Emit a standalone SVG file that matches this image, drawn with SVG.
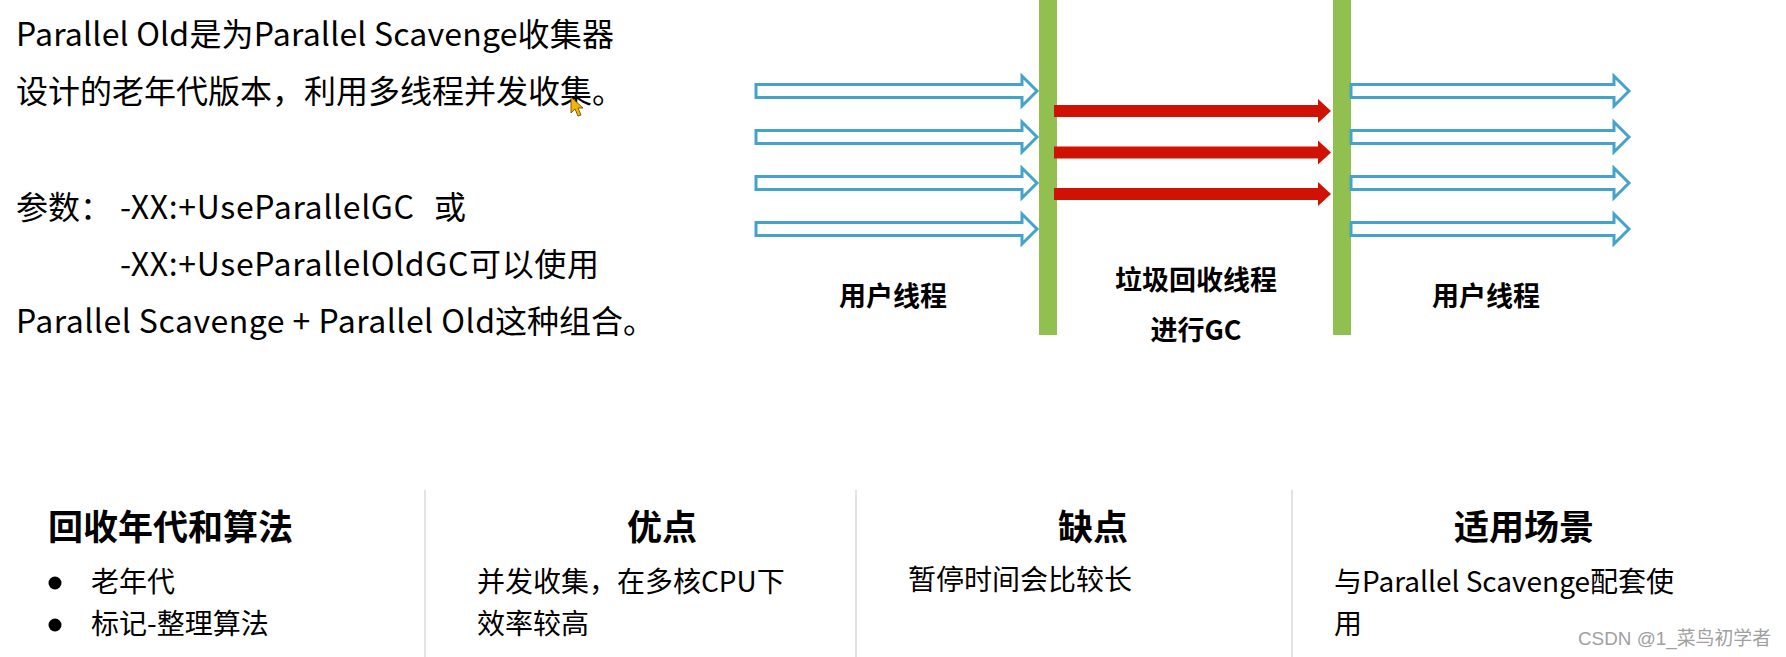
<svg xmlns="http://www.w3.org/2000/svg" width="1786" height="657" viewBox="0 0 1786 657">
<style>
text{font-family:"Noto Sans CJK SC","Liberation Sans",sans-serif;fill:#000}
.t{font-size:32px}
.lbl{font-size:27px;font-weight:700;text-anchor:middle}
.h{font-size:35px;font-weight:700}
.b{font-size:28px}
.blue{fill:#fff;stroke:#45A3CB;stroke-width:3}
.red{fill:#D01204}
.bar{fill:#92C050}
.div{stroke:#DADADA;stroke-width:1.5}
.wm{font-size:19px;fill:#A0A0A0;font-family:"Liberation Sans","Noto Sans CJK SC",sans-serif}
</style>
<rect width="1786" height="657" fill="#fff"/>
<g id="intro">
<text class="t" x="16" y="46" textLength="598" lengthAdjust="spacing">Parallel Old是为Parallel Scavenge收集器</text>
<text class="t" x="16" y="103">设计的老年代版本，利用多线程并发收集。</text>
<text class="t" x="16" y="219">参数：</text>
<text class="t" x="120" y="219" textLength="294" lengthAdjust="spacing">-XX:+UseParallelGC</text>
<text class="t" x="434" y="219">或</text>
<text class="t" x="120" y="276" textLength="479" lengthAdjust="spacing">-XX:+UseParallelOldGC可以使用</text>
<text class="t" x="16" y="333" textLength="479" lengthAdjust="spacing">Parallel Scavenge + Parallel Old</text>
<text class="t" x="495" y="333">这种组合。</text>
<path d="M571,97 L571,113 L575,109 L578,116 L581,115 L578,108 L583,108 Z" fill="#F5B400" stroke="#5a4000" stroke-width="0.8"/>
</g>
<g id="bars">
<rect id="bar1" class="bar" x="1039" y="0" width="18" height="335"/>
<rect id="bar2" class="bar" x="1333" y="0" width="18" height="335"/>
</g>
<g id="connectors">
<path class="blue" d="M756,84.5 H1022 V76 L1037,91 L1022,106 V97.5 H756 Z"/>
<path class="blue" d="M756,130.5 H1022 V122 L1037,137 L1022,152 V143.5 H756 Z"/>
<path class="blue" d="M756,176.5 H1022 V168 L1037,183 L1022,198 V189.5 H756 Z"/>
<path class="blue" d="M756,222.5 H1022 V214 L1037,229 L1022,244 V235.5 H756 Z"/>
<path class="red" d="M1054,105 H1318 V99 L1331,111 L1318,123 V117 H1054 Z"/>
<path class="red" d="M1054,146.5 H1318 V140.5 L1331,152.5 L1318,164.5 V158.5 H1054 Z"/>
<path class="red" d="M1054,188 H1318 V182 L1331,194 L1318,206 V200 H1054 Z"/>
<path class="blue" d="M1351,84.5 H1614 V76 L1629,91 L1614,106 V97.5 H1351 Z"/>
<path class="blue" d="M1351,130.5 H1614 V122 L1629,137 L1614,152 V143.5 H1351 Z"/>
<path class="blue" d="M1351,176.5 H1614 V168 L1629,183 L1614,198 V189.5 H1351 Z"/>
<path class="blue" d="M1351,222.5 H1614 V214 L1629,229 L1614,244 V235.5 H1351 Z"/>
</g>
<g id="labels">
<text class="lbl" x="893" y="306">用户线程</text>
<text class="lbl" x="1196" y="290">垃圾回收线程</text>
<text class="lbl" x="1196" y="340">进行GC</text>
<text class="lbl" x="1486" y="306">用户线程</text>
</g>
<g id="dividers">
<line class="div" x1="425" y1="490" x2="425" y2="657"/>
<line class="div" x1="856" y1="490" x2="856" y2="657"/>
<line class="div" x1="1292" y1="490" x2="1292" y2="657"/>
</g>
<g id="col1">
<text class="h" x="48" y="540">回收年代和算法</text>
<circle cx="55" cy="583" r="6.5"/>
<circle cx="55" cy="625" r="6.5"/>
<text class="b" x="91" y="592">老年代</text>
<text class="b" x="91" y="634">标记-整理算法</text>
</g>
<g id="col2">
<text class="h" x="662" y="540" text-anchor="middle">优点</text>
<text class="b" x="477" y="592">并发收集，在多核CPU下</text>
<text class="b" x="477" y="634">效率较高</text>
</g>
<g id="col3">
<text class="h" x="1093" y="540" text-anchor="middle">缺点</text>
<text class="b" x="908" y="590">暂停时间会比较长</text>
</g>
<g id="col4">
<text class="h" x="1524" y="540" text-anchor="middle">适用场景</text>
<text class="b" x="1334" y="592">与Parallel Scavenge配套使</text>
<text class="b" x="1334" y="634">用</text>
</g>
<text class="wm" x="1578" y="645" textLength="193" lengthAdjust="spacingAndGlyphs">CSDN @1_菜鸟初学者</text>
</svg>
